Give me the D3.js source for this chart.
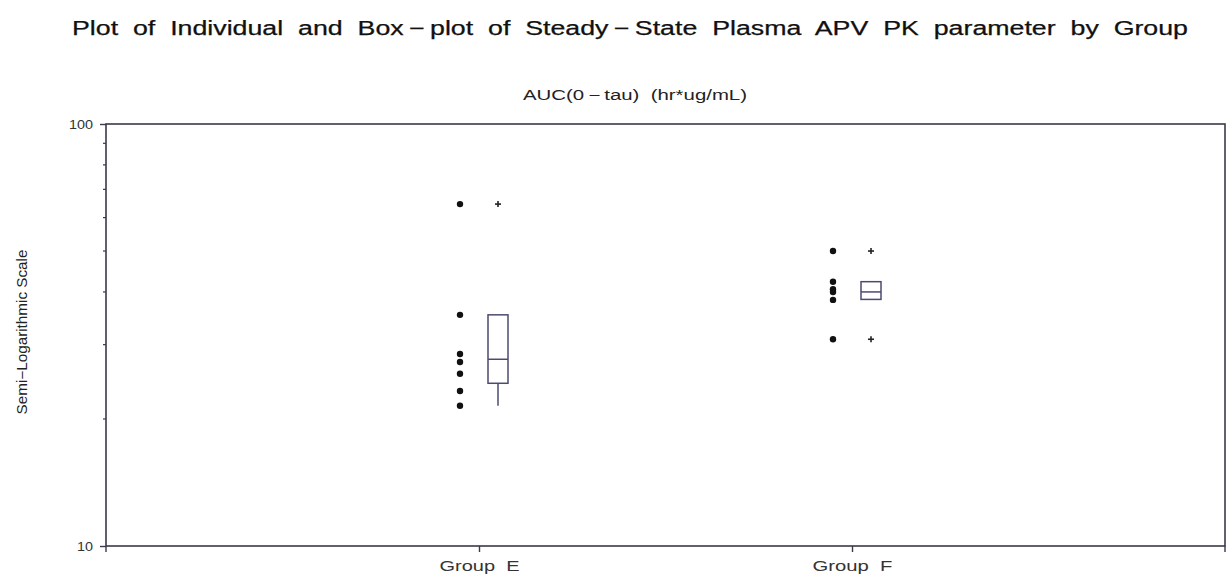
<!DOCTYPE html>
<html><head><meta charset="utf-8">
<script src="https://cdn.jsdelivr.net/npm/d3@7"></script>
<style>body{margin:0;background:#fff}svg{display:block}</style>
</head><body>
<svg id="c" width="1229" height="578"></svg>
<script>
const groups = ["Group E", "Group F"];
const groupEValues = [64.6, 35.3, 28.5, 27.3, 25.6, 23.3, 21.5];
const groupFValues = [50.0, 42.3, 40.6, 40.0, 38.3, 30.9];
const boxQ1 = [24.3, 38.4];
const boxMedian = [27.7, 40.0];
const boxQ3 = [35.3, 42.3];
const whiskerLow = [21.5, 38.4];
const whiskerHigh = [35.3, 42.3];
const outliers = [[64.6], [50.0, 30.9]];
const yTicks = [10, 100];
const yMinorTicks = [20, 30, 40, 50, 60, 70, 80, 90];

const svg = d3.select("#c");
const m = {l:106, r:1225, t:124, b:546};
const y = d3.scaleLog().domain([10,100]).range([m.b, m.t]);
const x = d3.scalePoint().domain(groups).range([m.l, m.r]).padding(1);
const axisCol = "#3a3a4a";
const boxCol = "#4b4b72";
const font = "Liberation Sans, Arial, sans-serif";

function stretch(sel, len) {
  sel.attr("textLength", len).attr("lengthAdjust", "spacingAndGlyphs");
  return sel;
}

// title
stretch(svg.append("text").attr("x", 630).attr("y", 35).attr("text-anchor","middle")
  .attr("font-family", font).attr("font-size", 20).attr("fill","#111")
  .attr("stroke", "#111").attr("stroke-width", 0.25)
  .attr("xml:space","preserve")
  .text("Plot  of  Individual  and  Box\u2009\u2212\u2009plot  of  Steady\u2009\u2212\u2009State  Plasma  APV  PK  parameter  by  Group"), 1116);

stretch(svg.append("text").attr("x", 635).attr("y", 100).attr("text-anchor","middle")
  .attr("font-family", font).attr("font-size", 14).attr("fill","#222")
  .attr("xml:space","preserve")
  .text("AUC(0\u2009\u2212\u2009tau)  (hr*ug/mL)"), 224);

stretch(svg.append("text").attr("transform","translate(27,332) rotate(-90)").attr("text-anchor","middle")
  .attr("font-family", font).attr("font-size", 14).attr("fill","#222")
  .text("Semi\u2212Logarithmic Scale"), 165);

// frame
svg.append("rect").attr("x", m.l).attr("y", m.t).attr("width", m.r - m.l).attr("height", m.b - m.t)
  .attr("fill","none").attr("stroke", axisCol).attr("stroke-width", 1.6);

// y axis
const yAxis = d3.axisLeft(y).tickValues(yTicks).tickFormat(d3.format("d")).tickSize(6).tickSizeOuter(0);
const gy = svg.append("g").attr("transform",`translate(${m.l},0)`).call(yAxis);
gy.select(".domain").remove();
gy.selectAll("text").attr("font-family", font).attr("font-size", 13.5).attr("fill","#333").attr("x",-13)
  .each(function(d){ stretch(d3.select(this), String(d).length * 8); });
gy.selectAll("line").attr("stroke", axisCol).attr("stroke-width",1.4);
svg.append("g").selectAll("line").data(yMinorTicks).join("line")
  .attr("x1", m.l - 3).attr("x2", m.l).attr("y1", d => y(d)).attr("y2", d => y(d))
  .attr("stroke", axisCol).attr("stroke-width", 1.2);

// x axis
const xAxis = d3.axisBottom(x).tickSize(6).tickSizeOuter(0);
const gx = svg.append("g").attr("transform",`translate(0,${m.b})`).call(xAxis);
gx.select(".domain").remove();
gx.selectAll("text").attr("font-family", font).attr("font-size", 14).attr("fill","#333")
  .attr("y", 0).attr("dy", null).attr("transform", "translate(0,25)")
  .attr("xml:space","preserve")
  .text(d => d.replace(" ", "  "))
  .each(function(){ stretch(d3.select(this), 80); });
gx.selectAll("line").attr("stroke", axisCol).attr("stroke-width",1.4);
svg.append("g").selectAll("line").data([m.l, m.r]).join("line")
  .attr("x1", d => d).attr("x2", d => d).attr("y1", m.b).attr("y2", m.b + 6)
  .attr("stroke", axisCol).attr("stroke-width", 1.4);

const dotOff = -19, boxOff = 19, boxHalf = 10;
const series = [groupEValues, groupFValues];
groups.forEach((g, i) => {
  const cx = x(g);
  svg.append("g").selectAll("circle").data(series[i]).join("circle")
    .attr("cx", cx + dotOff).attr("cy", d => y(d)).attr("r", 3.2).attr("fill", "#111");
  const bx = cx + boxOff;
  svg.append("line").attr("x1", bx).attr("x2", bx).attr("y1", y(boxQ1[i])).attr("y2", y(whiskerLow[i]))
    .attr("stroke", boxCol).attr("stroke-width", 1.5);
  svg.append("line").attr("x1", bx).attr("x2", bx).attr("y1", y(boxQ3[i])).attr("y2", y(whiskerHigh[i]))
    .attr("stroke", boxCol).attr("stroke-width", 1.5);
  svg.append("rect").attr("x", bx - boxHalf).attr("y", y(boxQ3[i]))
    .attr("width", boxHalf * 2).attr("height", y(boxQ1[i]) - y(boxQ3[i]))
    .attr("fill", "none").attr("stroke", boxCol).attr("stroke-width", 1.5);
  svg.append("line").attr("x1", bx - boxHalf).attr("x2", bx + boxHalf)
    .attr("y1", y(boxMedian[i])).attr("y2", y(boxMedian[i]))
    .attr("stroke", boxCol).attr("stroke-width", 1.5);
  const pl = svg.append("g").selectAll("g").data(outliers[i]).join("g")
    .attr("transform", d => `translate(${bx},${y(d)})`);
  pl.append("line").attr("x1",-3).attr("x2",3).attr("stroke","#222").attr("stroke-width",1.6);
  pl.append("line").attr("y1",-3).attr("y2",3).attr("stroke","#222").attr("stroke-width",1.6);
});
</script>
</body></html>
